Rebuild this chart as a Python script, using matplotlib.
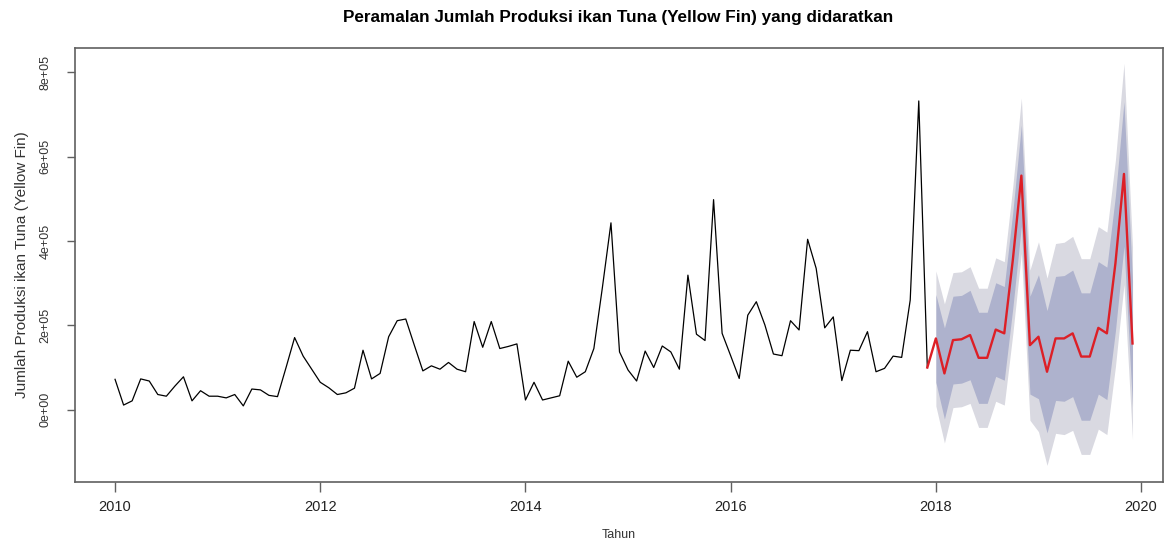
import matplotlib
matplotlib.use("Agg")
import matplotlib.pyplot as plt
import numpy as np

plt.rcParams["font.family"] = ["Liberation Sans", "DejaVu Sans"]

# monthly landings Jan 2010 .. Dec 2017 (thousands of kg)
actual = [
    72, 11, 21, 73, 68, 36, 32, 56, 78, 21, 45, 32,
    32, 28, 36, 9, 49, 47, 34, 31, 100, 171, 127, 96,
    65, 52, 36, 40, 51, 141, 73, 86, 173, 211, 215, 153,
    92, 104, 96, 112, 96, 90, 209, 148, 209, 145, 150, 156,
    23, 65, 23, 28, 33, 115, 77, 90, 145, 290, 443, 137,
    94, 68, 139, 100, 151, 137, 96, 319, 179, 164, 498, 181,
    128, 74, 224, 256, 201, 132, 128, 211, 189, 404, 335, 194,
    220, 69, 141, 140, 185, 90, 98, 127, 124, 260, 732, 100,
]

# forecast Jan 2018 .. Dec 2019 (thousands)
fc_mean = [169, 86, 165, 167, 177, 123, 123, 190, 181, 355, 555, 153,
           173, 90, 169, 169, 181, 126, 126, 194, 181, 347, 559, 157]
fc_hi80 = [273, 194, 269, 271, 283, 231, 231, 301, 292, 469, 675, 269,
           320, 235, 316, 318, 331, 277, 277, 351, 338, 507, 730, 306]
fc_lo80 = [65, -22, 61, 63, 71, 15, 15, 79, 70, 241, 435, 37,
           26, -55, 22, 20, 31, -25, -25, 37, 24, 187, 388, 8]
fc_hi95 = [329, 251, 325, 327, 339, 288, 288, 360, 351, 530, 739, 331,
           398, 312, 394, 397, 411, 358, 358, 434, 421, 592, 821, 385]
fc_lo95 = [9, -79, 5, 7, 15, -42, -42, 20, 11, 180, 371, -25,
           -52, -132, -56, -59, -49, -106, -106, -46, -59, 102, 297, -71]

year_ticks = [2010, 2012, 2014, 2016, 2018, 2020]
value_ticks = [0, 200000, 400000, 600000, 800000]
value_labels = ["0e+00", "2e+05", "4e+05", "6e+05", "8e+05"]

t_act = 2010 + np.arange(len(actual)) / 12
t_fc = 2018 + np.arange(len(fc_mean)) / 12
k = 1000

fig = plt.figure(figsize=(11.67, 5.43), dpi=100)
ax = fig.add_axes([0.0643, 0.1129, 0.9323, 0.7993])

ax.fill_between(t_fc, np.array(fc_lo95) * k, np.array(fc_hi95) * k,
                color="#D9D9E1", linewidth=0)
ax.fill_between(t_fc, np.array(fc_lo80) * k, np.array(fc_hi80) * k,
                color="#AEB2CD", linewidth=0)
ax.plot(t_act, np.array(actual) * k, color="black", linewidth=0.9)
ax.plot(np.r_[t_act[-1], t_fc], np.r_[actual[-1], fc_mean] * k,
        color="#DD1F26", linewidth=1.7)

ax.set_xlim(2009.61, 2020.214)
ax.set_ylim(-170700, 858300)

for s in ax.spines.values():
    s.set_color("#606060")
    s.set_linewidth(1.2)

ax.set_xticks(year_ticks)
ax.set_xticklabels([str(y) for y in year_ticks], fontsize=10.5, color="#222222")
ax.tick_params(axis="x", length=7, width=1, color="#606060", pad=6)
ax.set_yticks(value_ticks)
ax.set_yticklabels(value_labels, fontsize=9, color="#333333",
                   rotation=90, va="center")
ax.tick_params(axis="y", length=6, width=1, color="#606060", pad=11)

fig.text(0.530, 0.968, "Peramalan Jumlah Produksi ikan Tuna (Yellow Fin) yang didaratkan",
         ha="center", va="center", fontsize=12.3, fontweight="bold")
fig.text(0.530, 0.014, "Tahun", ha="center", va="center", fontsize=9,
         color="#333333")
fig.text(0.019, 0.512, "Jumlah Produksi ikan Tuna (Yellow Fin)", ha="center",
         va="center", rotation=90, fontsize=11, color="#333333")

fig.savefig("out.png", dpi=100, facecolor="white")
